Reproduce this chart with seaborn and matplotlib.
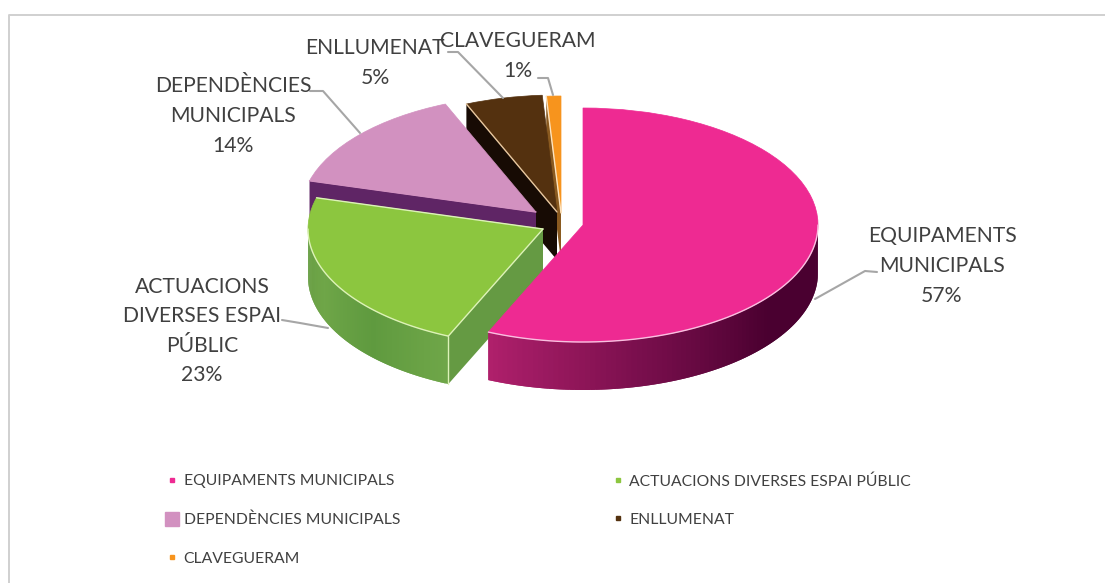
import numpy as np
import matplotlib
matplotlib.use('Agg')
import matplotlib.pyplot as plt
from matplotlib.lines import Line2D
import seaborn as sns

# dades
categories = ['EQUIPAMENTS MUNICIPALS', 'ACTUACIONS DIVERSES ESPAI PÚBLIC',
              'DEPENDÈNCIES MUNICIPALS', 'ENLLUMENAT', 'CLAVEGUERAM']
values = [56.6, 22.7, 14.4, 5.3, 1.0]
label_lines = ['EQUIPAMENTS\nMUNICIPALS\n57%', 'ACTUACIONS\nDIVERSES ESPAI\nPÚBLIC\n23%',
               'DEPENDÈNCIES\nMUNICIPALS\n14%', 'ENLLUMENAT\n5%', 'CLAVEGUERAM\n1%']

top_colors = ['#EE2A92', '#8CC63F', '#D291C0', '#54310F', '#F7941D']
line_colors = ['#F9C0E0', '#DDF2B8', '#D291C0', '#E8C8A0', '#FBE3C0']
wall_colors = [['#4A0030', '#4A0030', '#7A0F4D', '#B0206C'],
               ['#6FA648', '#5F9A3F', '#6FA648', '#669C42'],
               ['#5F2565', '#5F2565'], ['#170B04', '#170B04'], ['#3A2008', '#3A2008']]
cut_colors = [None, '#659A43', '#5F2565', '#170B04', '#8A5A20']

# geometria en pixels de la imatge
W, H = 1105, 583
RX, RY, DEPTH = 235, 117, 48
k = RX / RY
centers = [(583, 225), (543, 229), (536, 212), (557, 212), (561, 213)]
z_order = [10, 8, 6, 4, 2]

sns.set_theme(style='white')
plt.rcParams['font.family'] = ['Lato', 'DejaVu Sans']


def Y(py):
    return (H - py) * k


def rim(c, t):
    return c[0] + RX * np.sin(np.radians(t)), Y(c[1]) + RX * np.cos(np.radians(t))


fig = plt.figure(figsize=(W / 100, H / 100), dpi=100)
ax = fig.add_axes([0, 0, 1, 1])

wedges, _ = ax.pie(values, startangle=90, counterclock=False, radius=RX)
ax.set_aspect('auto')
ax.set_xlim(0, W)
ax.set_ylim(0, H * k)
ax.axis('off')

limits = np.concatenate([[0], np.cumsum(values)]) * 360 / sum(values)
drop = DEPTH * k

for i, w in enumerate(wedges):
    c = centers[i]
    w.set_center((c[0], Y(c[1])))
    w.set_facecolor(top_colors[i])
    w.set_edgecolor(top_colors[i])
    w.set_linewidth(0.5)
    w.set_zorder(z_order[i])

    # paret exterior, nomes la part de davant
    t0, t1 = max(limits[i], 90), min(limits[i + 1], 270)
    if t1 > t0:
        cmap = sns.blend_palette(wall_colors[i], as_cmap=True)
        steps = np.linspace(t0, t1, 90)
        for n in range(len(steps) - 1):
            # cada tira arriba fins a la seguent perque no es vegin costures
            xa, ya = rim(c, steps[n])
            xb, yb = rim(c, steps[min(n + 2, len(steps) - 1)])
            ax.fill([xa, xb, xb, xa], [ya, yb, yb - drop, ya - drop],
                    color=cmap(n / (len(steps) - 1)), lw=0,
                    zorder=z_order[i] - 0.5)
        # vora clara de dalt
        ts = np.linspace(t0, t1, 60)
        ax.plot(*rim(c, ts), color=line_colors[i], lw=1.0, zorder=z_order[i] + 0.1)

    # cara del tall
    if cut_colors[i] is not None:
        xr, yr = rim(c, limits[i])
        ax.fill([c[0], xr, xr, c[0]], [Y(c[1]), yr, yr - drop, Y(c[1]) - drop],
                color=cut_colors[i], lw=0, zorder=z_order[i] - 0.4)
        ax.plot([c[0], xr], [Y(c[1]), yr], color=line_colors[i], lw=1.0,
                zorder=z_order[i] + 0.1)
        if i == 1:
            ax.plot([xr, xr], [yr, yr - drop], color=line_colors[i], lw=1.0,
                    zorder=z_order[i] - 0.3)
            xe, ye = rim(c, limits[i + 1])
            ax.plot([c[0], xe], [Y(c[1]), ye], color=line_colors[i], lw=1.0,
                    zorder=z_order[i] + 0.1)

# linies guia
leaders = [[(815, 299), (865, 271), (877, 272)],
           [(282, 320), (300, 323), (328, 328)],
           [(310, 91), (323, 91), (360, 133)],
           [(448, 52), (458, 52), (503, 98)],
           [(538, 78), (548, 78), (553, 95)]]
for pts in leaders:
    ax.plot([p[0] for p in pts], [Y(p[1]) for p in pts], color='#A6A6A6', lw=1.5, zorder=20)

# etiquetes
label_pos = [(942, 266), (202, 331), (233, 116), (375, 63), (518, 56)]
for txt, pos in zip(label_lines, label_pos):
    ax.text(pos[0], Y(pos[1]), txt, ha='center', va='center', fontsize=15.2,
            color='#404040', linespacing=1.6, zorder=21)

# llegenda, per columnes
order = [0, 2, 4, 1, 3]
marker_sizes = [3, 10.5, 3, 3, 3]
handles = [Line2D([], [], ls='', marker='s', ms=s, color=top_colors[i])
           for i, s in zip(order, marker_sizes)]
ax.legend(handles, [categories[i] for i in order], ncol=2, frameon=False, loc='upper left',
          bbox_to_anchor=(164 / W, 1 - 474 / H), fontsize=11.35, labelcolor='#404040',
          labelspacing=1.55, handlelength=1.0, handletextpad=0.25, columnspacing=13.3,
          borderpad=0, borderaxespad=0)

# marc del grafic
ax.plot([8.5, 8.5, W], [Y(H), Y(14.5), Y(14.5)], color='#D0D0D0', lw=1.4, zorder=1)

fig.savefig('out.png', dpi=100)
